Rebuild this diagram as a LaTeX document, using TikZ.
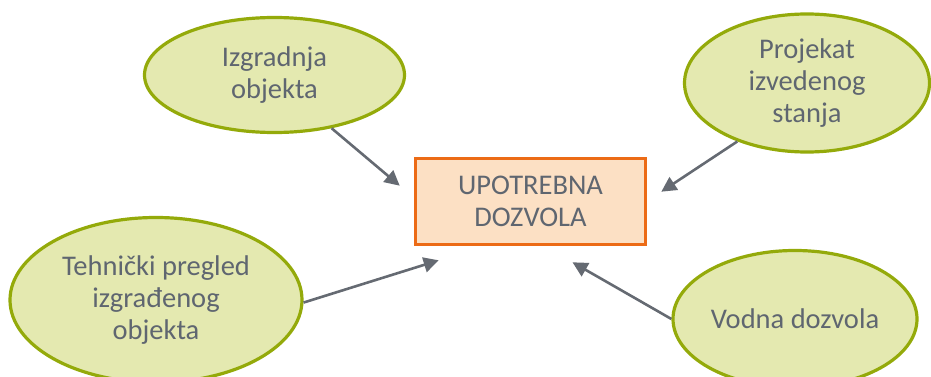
\documentclass[tikz,border=0pt]{standalone}
\usepackage{fontspec}
\setmainfont{Carlito}
\usepackage{xcolor}
\usepackage{tikz}
\usetikzlibrary{arrows.meta,positioning,shapes.geometric,calc}
\definecolor{leafgreen}{HTML}{94AA0A}
\definecolor{softleaf}{HTML}{E4E9B0}
\definecolor{permitorange}{HTML}{EC6B16}
\definecolor{softorange}{HTML}{FCE0C4}
\definecolor{textgray}{HTML}{5F6670}
\definecolor{linegray}{HTML}{656A72}
\tikzset{
  topic/.style={draw=leafgreen, ellipse, line width=3.2pt, fill=softleaf, align=center, inner sep=0pt, text=textgray},
  permit/.style={draw=permitorange, rectangle, line width=3.6pt, fill=softorange, align=center, minimum width=230pt, minimum height=86pt, text=textgray},
  arrow/.style={-{Triangle[length=15pt,width=15pt]}, line width=2.6pt, draw=linegray}
}

\begin{document}
\begin{tikzpicture}[x=1pt, y=-1pt, font=\fontsize{28.5}{32}\selectfont]
  \useasboundingbox (0,0) rectangle (931,377);

  \node[permit] (dozvola) at (530.5,201.5) {UPOTREBNA\\DOZVOLA};

  \node[topic, minimum width=260pt, minimum height=115pt] (izgradnja) at (274.5,75) {Izgradnja\\objekta};
  \node[topic, minimum width=245pt, minimum height=138pt] (projekat) at (807,83) {Projekat\\izvedenog\\stanja};
  \node[topic, minimum width=292pt, minimum height=165pt] (tehnicki) at (156,300) {Tehnički pregled\\izgrađenog\\objekta};
  \node[topic, minimum width=244pt, minimum height=137pt] (vodna) at (795,319) {Vodna dozvola};

  % arrow tips, kept clear of the box
  \coordinate (tipA) at ($(dozvola.north west)+(-14,29)$);
  \coordinate (tipB) at ($(dozvola.north east)+(14,35)$);
  \coordinate (tipC) at ($(dozvola.south west)+(25,14)$);
  \coordinate (tipD) at ($(dozvola.south)+(42,16)$);

  \draw[arrow] (izgradnja.-43) -- (tipA);
  \draw[arrow] (projekat.-140) -- (tipB);
  \draw[arrow] (tehnicki.-1) -- (tipC);
  \draw[arrow] (vodna.west) -- (tipD);
\end{tikzpicture}
\end{document}
